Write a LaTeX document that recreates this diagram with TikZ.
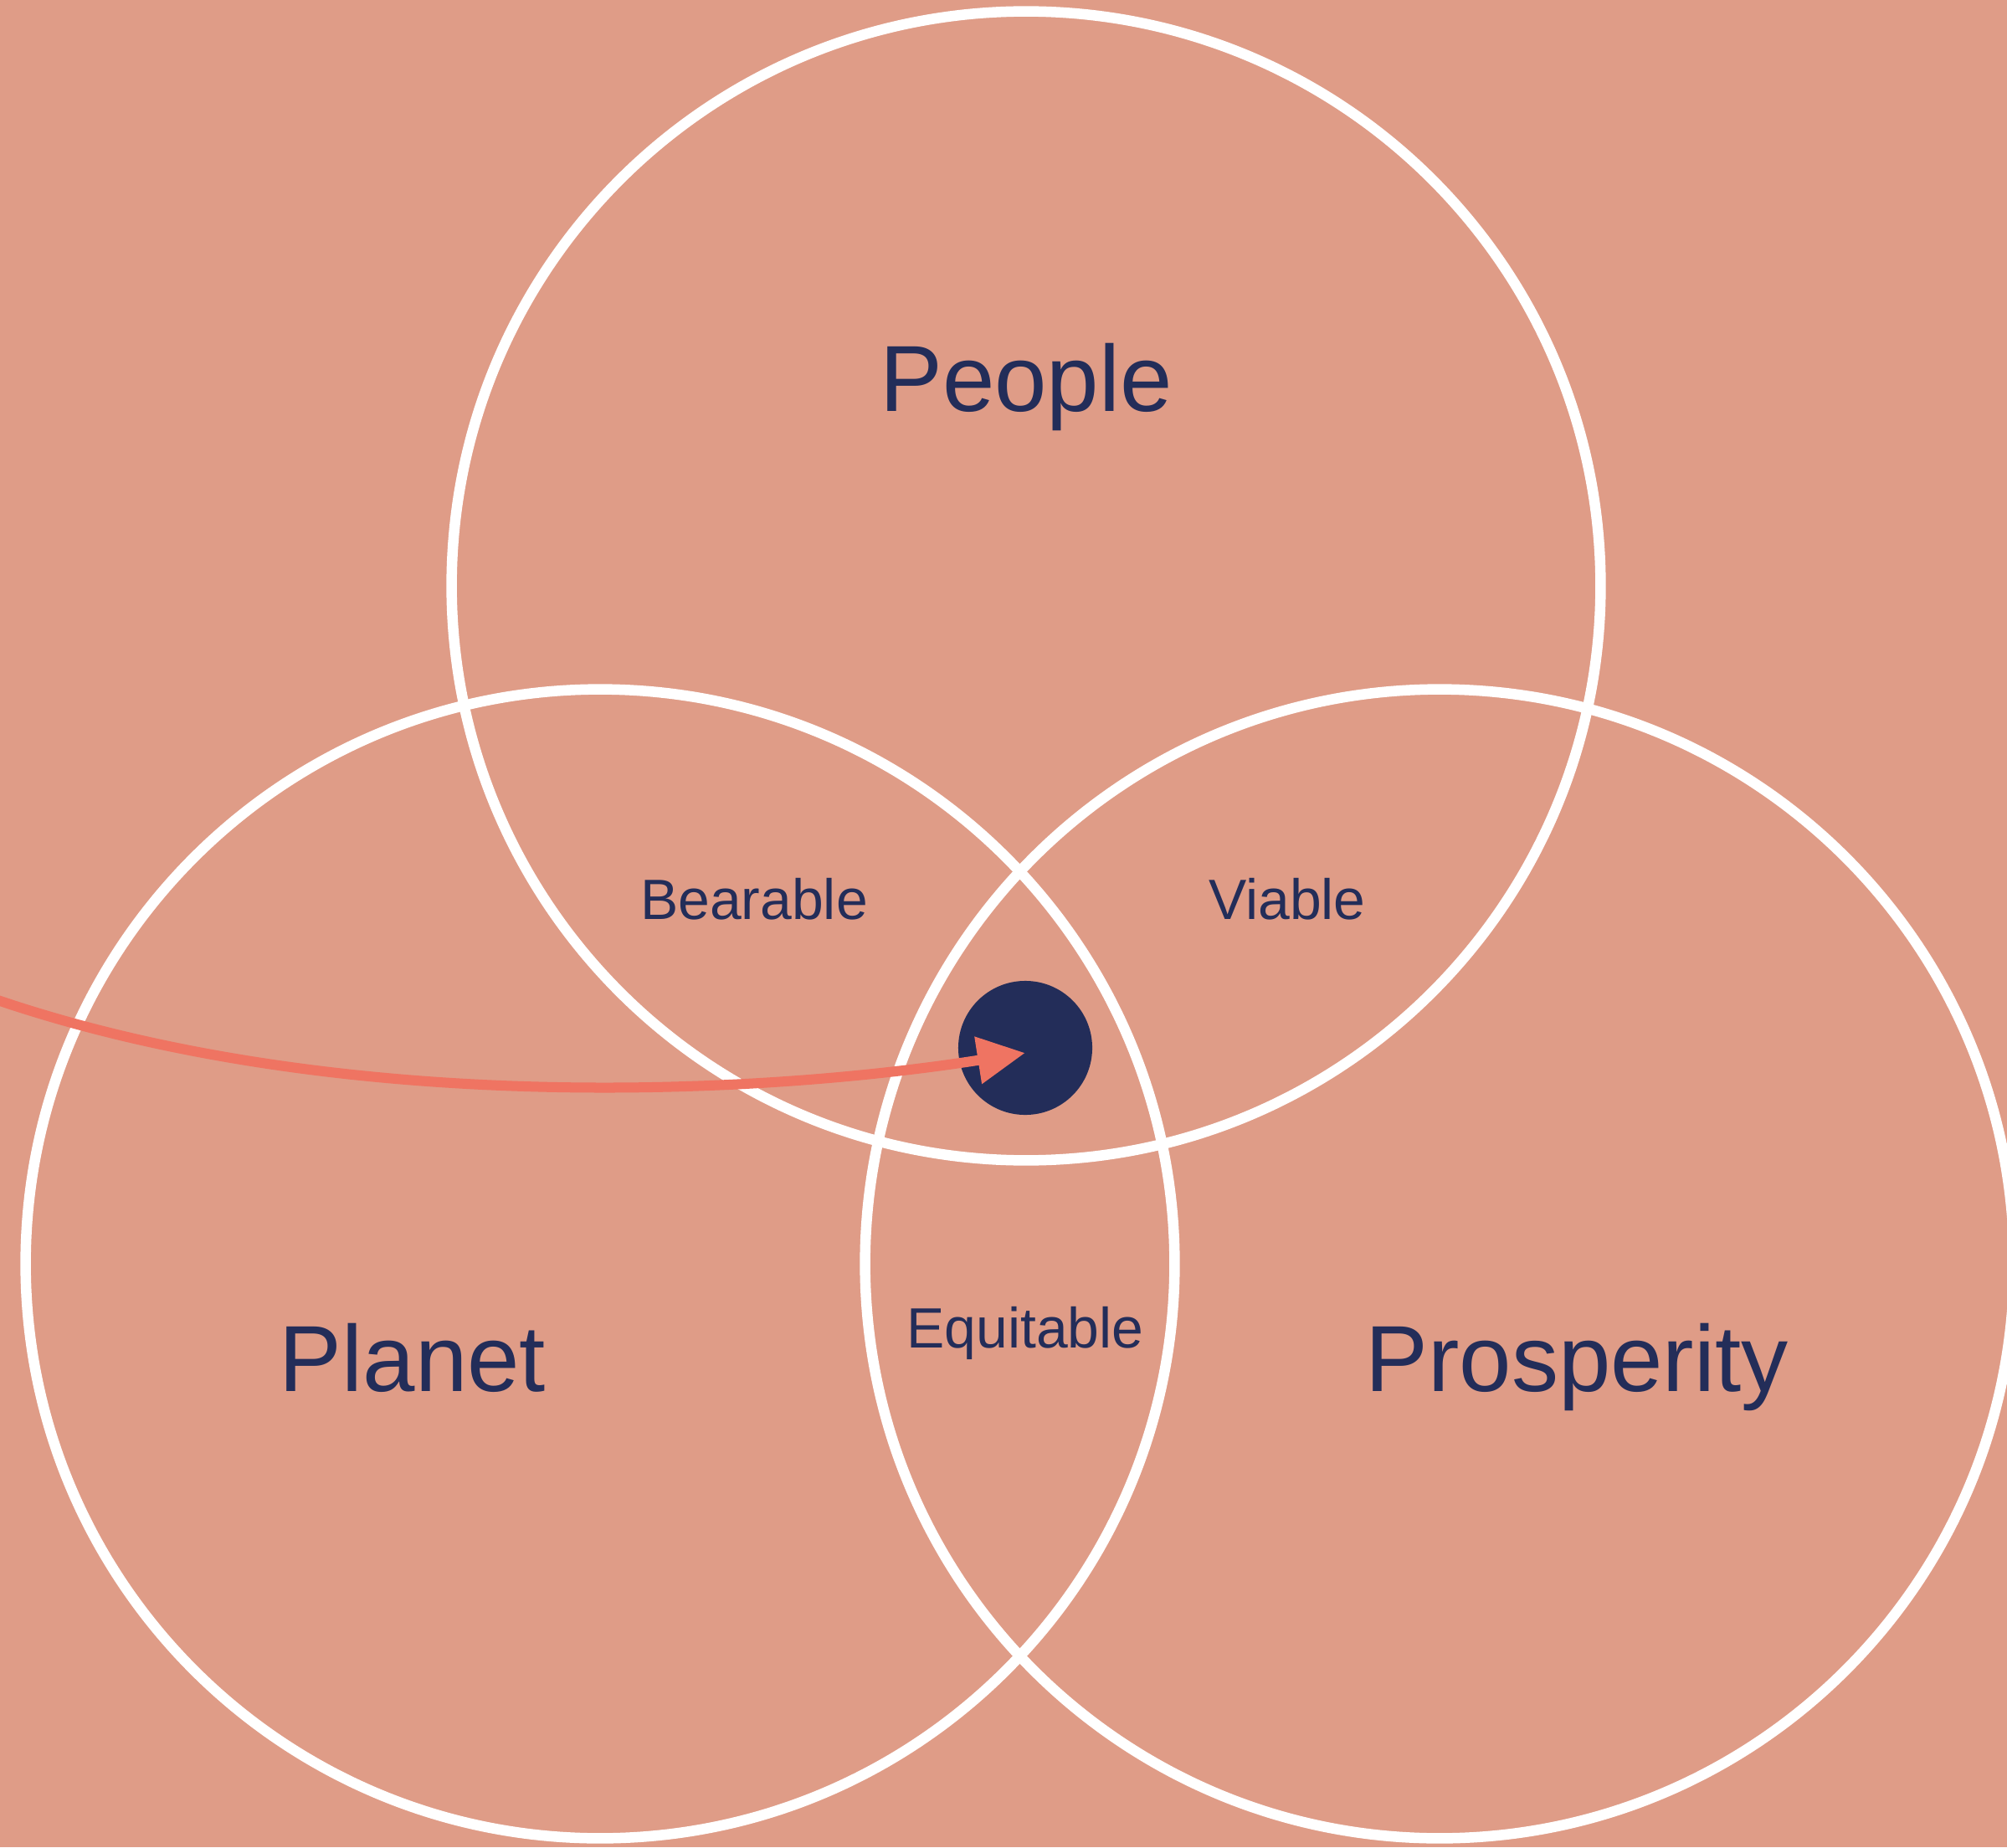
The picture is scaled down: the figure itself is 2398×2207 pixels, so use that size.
\documentclass[tikz,border=0pt]{standalone}
\usepackage{fontspec}
\setmainfont{Liberation Sans}
\usetikzlibrary{arrows.meta}
\definecolor{bgpeach}{RGB}{223,156,135}
\definecolor{navy}{RGB}{35,45,89}
\definecolor{coral}{RGB}{239,116,98}
\tikzset{
  ring/.style={circle, draw=white, line width=0.125cm, inner sep=0pt, minimum size=13.72cm},
  bigtext/.style={anchor=base, inner sep=0pt, text=navy, font=\fontsize{31.9}{38}\selectfont},
  smalltext/.style={anchor=base, inner sep=0pt, text=navy, font=\fontsize{19.3}{23}\selectfont},
  hub/.style={circle, fill=navy, inner sep=0pt, minimum size=1.6cm},
  pointer/.style={draw=coral, line width=0.12cm, -{Triangle[length=0.57cm,width=0.54cm]}}
}
\begin{document}
\begin{tikzpicture}[x=0.01cm,y=-0.01cm]
\fill[bgpeach] (0,0) rectangle (2398,2207);
\useasboundingbox (0,0) rectangle (2398,2207);
\clip (0,0) rectangle (2398,2207);
\node[ring] (people) at (1226,700) {};
\node[ring] (planet) at (717,1510) {};
\node[ring] (prosperity) at (1720,1510) {};
\node[hub] (dot) at (1225,1252) {};
\node[bigtext] (tpeople) at (1226,492) {People};
\node[bigtext] (tplanet) at (493,1662) {Planet};
\node[bigtext] (tprosperity) at (1884,1662) {Prosperity};
\node[smalltext] (tbearable) at (901,1098) {Bearable};
\node[smalltext] (tviable) at (1538,1098) {Viable};
\node[smalltext] (tequitable) at (1225,1610) {Equitable};
\coordinate (start) at (-20,1189);
\coordinate (tip) at (1225,1258);
\draw[pointer] (start) .. controls (380,1330) and (880,1312) .. (tip);
\end{tikzpicture}
\end{document}
